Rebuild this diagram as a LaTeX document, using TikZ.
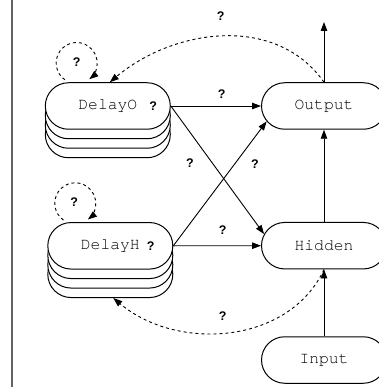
\documentclass[tikz,border=0pt]{standalone}
\usepackage{fontspec}
\newfontfamily\unitfont{TeX Gyre Cursor}
\newfontfamily\markfont{Liberation Sans}
\usetikzlibrary{shapes.misc,shadows,arrows.meta}
\definecolor{railgray}{RGB}{100,100,100}

\begin{document}
\begin{tikzpicture}[x=1pt,y=1pt,
  unit/.style={rounded rectangle, draw, line width=1pt, fill=white,
    minimum width=125pt, minimum height=46.5pt, inner sep=0pt,
    font=\unitfont\fontsize{16.3}{16}\selectfont},
  layer/.style={general shadow={shadow scale=1, shadow xshift=0pt,
    shadow yshift=#1, draw, line width=1pt, fill=white}},
  stacked/.style={unit, layer=-28.5pt, layer=-19pt, layer=-9.5pt},
  qlabel/.style={font=\markfont\bfseries\fontsize{12.5}{12}\selectfont, inner sep=0pt},
  arr/.style={line width=0.9pt, -{Triangle[length=9pt,width=6.5pt]}},
  feedback/.style={arr, dashed},
  rail/.style={draw=railgray, line width=1.3pt}
]
\useasboundingbox[fill=white] (0,0) rectangle (378,-387);
\draw[rail] (12,0) -- (12,-387);

% units
\node[stacked] (DelayO) at (107.8,-106) {DelayO};
\node[stacked] (DelayH) at (110.3,-245.8) {DelayH};
\node[unit] (Output) at (324,-106) {Output};
\node[unit] (Hidden) at (324,-245.7) {Hidden};
\node[unit] (Input) at (324,-360) {Input};

\node[qlabel] (mO) at (153.3,-106.5) {?};
\node[qlabel] (mH) at (150.7,-246) {?};

% forward connections
\draw[arr] (DelayO.east) -- (Output.west);
\draw[arr] (DelayO.east) -- (Hidden.169);
\draw[arr] (DelayH.east) -- (Hidden.west);
\draw[arr] (DelayH.east) -- (Output.195);
\draw[arr] (Input.north) -- (Hidden.south);
\draw[arr] (Hidden.north) -- (Output.south);
\coordinate (result) at (324,-22);
\draw[arr] (Output.north) -- (result);

\node[qlabel] (q1) at (221.7,-94) {?};
\node[qlabel] (q2) at (190,-163.3) {?};
\node[qlabel] (q3) at (255,-164.3) {?};
\node[qlabel] (q4) at (222.7,-230) {?};

% delayed feedback
\draw[feedback] (Output.north) to[out=125,in=40] ([xshift=2pt]DelayO.north);
\draw[feedback] (Hidden.south) to[out=-115,in=-40] ([xshift=3pt,yshift=-28.5pt]DelayH.south);
\node[qlabel] (q5) at (220.7,-16) {?};
\node[qlabel] (q6) at (222.7,-316) {?};

% self loops
\coordinate (loopO) at (64.9,-79.8);
\draw[feedback] (loopO) arc[start angle=235,end angle=-52,radius=20.5];
\node[qlabel] (q7) at (76.7,-62.3) {?};
\coordinate (loopH) at (63.5,-220.1);
\draw[feedback] (loopH) arc[start angle=235,end angle=-52,radius=20.5];
\node[qlabel] (q8) at (74.3,-201.7) {?};
\end{tikzpicture}
\end{document}
